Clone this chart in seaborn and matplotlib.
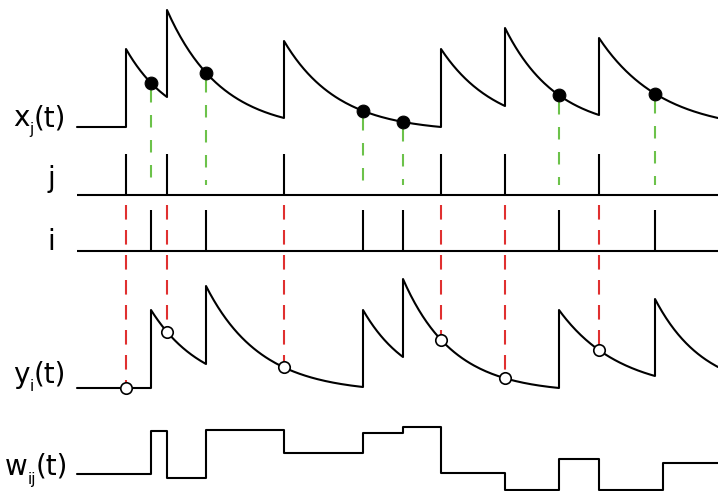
import numpy as np
import pandas as pd
import matplotlib
matplotlib.use('Agg')
import matplotlib.pyplot as plt
import seaborn as sns

sns.set_theme(style='white')
plt.rcParams['font.family'] = ['DejaVu Sans']

# time axis (pixel columns of the sketch)
t_start = 77
t_end = 718

# spike times
pre_spikes = [126, 167, 284, 441, 505, 599]    # neuron j
post_spikes = [151, 206, 363, 403, 559, 655]   # neuron i

# x_j(t): height just after each pre spike and just before the next one
x_peaks = [78, 117, 86, 78, 99, 89]
x_ends = [30, 9, 0, 21, 12, 9]

# y_i(t): same for the post trace
y_peaks = [78, 102, 78, 109, 78, 89]
y_ends = [24, 1, 31, 0, 12, 21]

# w_ij(t): step edges and levels
w_edges = [77, 151, 167, 206, 284, 363, 403, 441, 505, 559, 599, 663, 718]
w_levels = [0, 43, -4, 44, 21, 41, 47, 1, -16, 15, -16, 11]

# row baselines (pixels from top)
x_base = 127
j_base = 195
i_base = 251
y_base = 388
w_base = 474
tick_h = 41

floor = -5   # traces decay towards a level slightly under the baseline


def segment(p, e, s):
    r = (e - floor) / (p - floor)
    return floor + (p - floor) * r ** s


def build_trace(spikes, peaks, ends, n=80):
    xs = [t_start, spikes[0]]
    ys = [0.0, 0.0]
    for k, t0 in enumerate(spikes):
        t1 = spikes[k + 1] if k + 1 < len(spikes) else t_end
        s = np.linspace(0, 1, n)
        xs += list(t0 + s * (t1 - t0))
        ys += list(segment(peaks[k], ends[k], s))
    return np.array(xs), np.array(ys)


def trace_at(t, spikes, peaks, ends):
    if t < spikes[0]:
        return 0.0
    k = max(i for i, sp in enumerate(spikes) if sp <= t)
    t1 = spikes[k + 1] if k + 1 < len(spikes) else t_end
    return segment(peaks[k], ends[k], (t - spikes[k]) / (t1 - spikes[k]))


fig = plt.figure(figsize=(7.18, 4.91), dpi=100)
ax = fig.add_axes([0, 0, 1, 1])

lw = 1.5

# traces
tx, vx = build_trace(pre_spikes, x_peaks, x_ends)
df_x = pd.DataFrame({'t': tx, 'v': x_base - vx})
sns.lineplot(data=df_x, x='t', y='v', sort=False, estimator=None, color='black', lw=lw, ax=ax)

ty, vy = build_trace(post_spikes, y_peaks, y_ends)
df_y = pd.DataFrame({'t': ty, 'v': y_base - vy})
sns.lineplot(data=df_y, x='t', y='v', sort=False, estimator=None, color='black', lw=lw, ax=ax)

# weight
df_w = pd.DataFrame({'t': w_edges, 'v': [w_base - v for v in w_levels + [w_levels[-1]]]})
sns.lineplot(data=df_w, x='t', y='v', sort=False, estimator=None, color='black', lw=lw,
             drawstyle='steps-post', ax=ax)

# spike rasters
ax.hlines([j_base, i_base], t_start, t_end, color='black', lw=lw)
ax.vlines(pre_spikes, j_base - tick_h, j_base, color='black', lw=lw)
ax.vlines(post_spikes, i_base - tick_h, i_base, color='black', lw=lw)

# post spike -> read x_j (filled dots, green dashes)
dots = [x_base - trace_at(t, pre_spikes, x_peaks, x_ends) for t in post_spikes]
for t, yv in zip(post_spikes, dots):
    ax.plot([t, t], [yv + 7, j_base - 10], color='#6cc24a', lw=lw, linestyle=(0, (6, 6)))
sns.scatterplot(x=post_spikes, y=dots, color='black', s=85, edgecolor='black', zorder=5, ax=ax)

# pre spike -> read y_i (open circles, red dashes)
circles = [y_base - trace_at(t, post_spikes, y_peaks, y_ends) for t in pre_spikes]
for t, yv in zip(pre_spikes, circles):
    ax.plot([t, t], [j_base + 10, yv - 6], color='#e03030', lw=lw, linestyle=(0, (7, 5)))
sns.scatterplot(x=pre_spikes, y=circles, color='white', s=68, edgecolor='black',
                linewidth=1.2, zorder=5, ax=ax)

# row labels (letter, small subscript, "(t)") placed side by side
fs = 20
sub_fs = 11
kw = dict(va='baseline', ha='left', color='black')
ax.text(13, 126, 'x', fontsize=fs, **kw)
ax.text(29.5, 134, 'j', fontsize=sub_fs, **kw)
ax.text(34, 126, '(t)', fontsize=fs, **kw)

ax.text(51, 187, 'j', fontsize=fs, va='baseline', ha='center', color='black')
ax.text(51, 250, 'i', fontsize=fs, va='baseline', ha='center', color='black')

ax.text(13, 383, 'y', fontsize=fs, **kw)
ax.text(29.5, 391, 'i', fontsize=sub_fs, **kw)
ax.text(34, 383, '(t)', fontsize=fs, **kw)

ax.text(5, 475, 'w', fontsize=fs, **kw)
ax.text(27.5, 484, 'ij', fontsize=sub_fs, **kw)
ax.text(36, 475, '(t)', fontsize=fs, **kw)

ax.set_xlim(0, 718)
ax.set_ylim(491, 0)
ax.axis('off')

fig.savefig('out.png', dpi=100)
